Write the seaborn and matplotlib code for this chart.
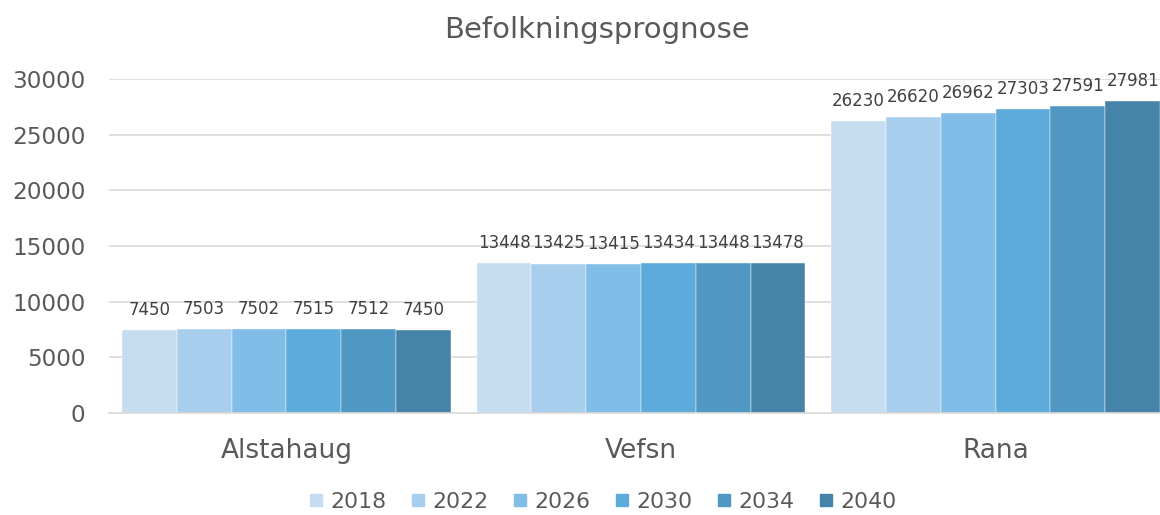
import matplotlib
matplotlib.use("Agg")
import matplotlib.pyplot as plt
import seaborn as sns
import pandas as pd
from matplotlib.lines import Line2D

categories = ["Alstahaug", "Vefsn", "Rana"]
years = ["2018", "2022", "2026", "2030", "2034", "2040"]
values = {
    "2018": [7450, 13448, 26230],
    "2022": [7503, 13425, 26620],
    "2026": [7502, 13415, 26962],
    "2030": [7515, 13434, 27303],
    "2034": [7512, 13448, 27591],
    "2040": [7450, 13478, 27981],
}
colors = ["#C6DCF0", "#A8CEEE", "#80BDE7", "#5CABDA", "#5098C4", "#4584A8"]
title = "Befolkningsprognose"

rows = []
for y in years:
    for c, v in zip(categories, values[y]):
        rows.append({"Kommune": c, "År": y, "Antall": v})
df = pd.DataFrame(rows)

sns.set_theme(style="white")
plt.rcParams["font.family"] = ["DejaVu Sans"]
txt = "#595959"

fig = plt.figure(figsize=(11.6, 5.15), dpi=100)
ax = fig.add_axes([109 / 1160, (515 - 413) / 515, 1064 / 1160, (413 - 79) / 515])

sns.barplot(data=df, x="Kommune", y="Antall", hue="År", hue_order=years,
            order=categories, palette=colors, width=0.927, gap=0,
            saturation=1, ax=ax, legend=False, edgecolor="white", linewidth=0.3)

for cont in ax.containers:
    ax.bar_label(cont, fmt="%d", padding=8, fontsize=12, color="#404040")

ax.set_ylim(0, 30000)
ax.set_xlim(-0.5, 2.5)
ax.set_yticks(range(0, 30001, 5000))
ax.yaxis.grid(True, color="#D9D9D9", linewidth=1.2)
ax.set_axisbelow(True)
for s in ["top", "right", "left"]:
    ax.spines[s].set_visible(False)
ax.spines["bottom"].set_color("#D9D9D9")
ax.spines["bottom"].set_linewidth(1.2)
ax.set_xlabel("")
ax.set_ylabel("")
ax.tick_params(axis="x", length=0, pad=18, labelsize=19, labelcolor=txt)
ax.tick_params(axis="y", length=0, pad=17, labelsize=16.7, labelcolor=txt)

fig.text(597 / 1160, 1 - 30 / 515, title, ha="center", va="center", fontsize=21, color=txt)

handles = [Line2D([0], [0], marker="s", linestyle="", markersize=8,
                  markerfacecolor=c, markeredgecolor=c) for c in colors]
fig.legend(handles, years, loc="center", bbox_to_anchor=(603 / 1160, 1 - 502 / 515),
           ncol=6, frameon=False, fontsize=15.8, labelcolor=txt,
           handletextpad=0.35, columnspacing=1.15, handlelength=0.6)

fig.savefig("out.png", dpi=100)
